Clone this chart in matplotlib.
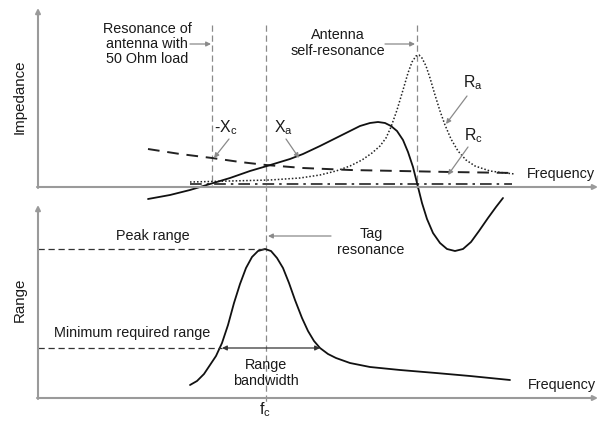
"""
Impedance and range of an RFID tag versus frequency (schematic).
Coordinates are in image pixels: x to the right, y downward.
"""

import matplotlib
matplotlib.use("Agg")
import matplotlib.pyplot as plt

plt.rcParams["font.family"] = ["Liberation Sans", "DejaVu Sans"]
plt.rcParams["mathtext.fontset"] = "custom"
plt.rcParams["mathtext.rm"] = "Liberation Sans"

# ---------------------------  Data  -------------------

# top panel: antenna reactance Xa (solid)
xa_x = [148, 170, 190, 210, 230, 250, 267, 290, 303, 320, 336, 350, 360,
        370, 378, 385, 391, 397, 403, 408, 413, 418, 422, 427, 433, 440,
        447, 455, 463, 471, 479, 488, 496, 503]
xa_y = [199, 195, 190, 184, 178, 171, 166, 159, 154, 146, 138, 131, 126,
        123, 122, 123, 126, 131, 140, 152, 167, 187, 203, 219, 233, 243,
        249, 251, 249, 242, 231, 218, 207, 198]

# antenna resistance Ra (dotted)
ra_x = [190, 230, 270, 300, 320, 336, 350, 362, 372, 380, 386, 391, 397,
        403, 408, 412, 416, 419, 422, 426, 430, 435, 440, 445, 451, 458,
        466, 475, 490, 505, 515]
ra_y = [182, 181, 180, 178, 175, 171, 166, 160, 153, 146, 138, 127, 110,
        90, 73, 62, 56, 55, 58, 66, 78, 95, 111, 125, 139, 151,
        160, 166, 171, 173, 174]

# chip reactance -Xc (dashed)
xc_x = [148, 180, 212, 240, 266, 303, 350, 400, 450, 515]
xc_y = [149, 154, 158, 162, 165, 168, 170, 171, 172, 173]

# chip resistance Rc (dash-dot)
rc_x = [190, 512]
rc_y = [184, 184]

# bottom panel: read range
rng_x = [190, 197, 204, 210, 216, 222, 228, 234, 240, 246, 252, 258, 265,
         271, 277, 283, 289, 295, 302, 308, 314, 320, 328, 336, 350, 370,
         400, 436, 470, 510]
rng_y = [385, 381, 374, 365, 356, 343, 325, 303, 284, 268, 257, 251, 249,
         251, 258, 268, 283, 300, 318, 331, 341, 348, 354, 358, 363, 367,
         370, 373, 376, 380]

# marker frequencies (x)
f_50ohm = 212
f_c = 266
f_self = 417
peak_y = 249
min_y = 348

# ---------------------------  Drawing  ---------------------------------------

fig = plt.figure(figsize=(6.06, 4.23), dpi=100)
ax = fig.add_axes([0, 0, 1, 1])
ax.set_xlim(0, 606)
ax.set_ylim(423, 0)
ax.axis("off")

TXT = "#1a1a1a"
GREY = "#8a8a8a"
FS = 10.4


def arrow(x0, y0, x1, y1, color=GREY, lw=0.9, head="-|>"):
    ax.annotate("", xy=(x1, y1), xytext=(x0, y0),
                arrowprops=dict(arrowstyle=head, color=color, lw=lw,
                                shrinkA=0, shrinkB=0,
                                mutation_scale=7))


# axes
arrow(38, 188, 38, 8, color="#9a9a9a", lw=1.5)
arrow(37, 187, 598, 187, color="#9a9a9a", lw=1.5)
arrow(38, 399, 38, 205, color="#9a9a9a", lw=1.5)
arrow(37, 398, 598, 398, color="#9a9a9a", lw=1.5)

# vertical marker lines
ax.plot([f_50ohm, f_50ohm], [25, 187], color=GREY, lw=0.9, ls=(0, (5, 3)))
ax.plot([f_c, f_c], [25, 405], color=GREY, lw=0.9, ls=(0, (5, 3)))
ax.plot([f_self, f_self], [25, 188], color=GREY, lw=0.9, ls=(0, (5, 3)))

# curves
ax.plot(xc_x, xc_y, color="#222", lw=1.4, ls=(0, (6, 4)))
ax.plot(rc_x, rc_y, color="#222", lw=1.2, ls=(0, (7, 3, 1.5, 3)))
ax.plot(ra_x, ra_y, color="#222", lw=1.1, ls=(0, (1, 1.3)))
ax.plot(xa_x, xa_y, color="#111", lw=1.3, solid_capstyle="round",
        solid_joinstyle="round")
ax.plot(rng_x, rng_y, color="#111", lw=1.3, solid_capstyle="round",
        solid_joinstyle="round")

# horizontal reference lines in range panel
ax.plot([38, f_c], [peak_y, peak_y], color="#333", lw=0.9, ls=(0, (5, 3)))
ax.plot([38, 222], [min_y, min_y], color="#333", lw=0.9, ls=(0, (5, 3)))

# range bandwidth double arrow
ax.annotate("", xy=(222, min_y), xytext=(320, min_y),
            arrowprops=dict(arrowstyle="<|-|>", color="#333", lw=0.9,
                            shrinkA=0, shrinkB=0, mutation_scale=7))

# labels
ax.text(20, 97, "Impedance", rotation=90, ha="center", va="center",
        fontsize=FS + 0.5, color=TXT)
ax.text(20, 300, "Range", rotation=90, ha="center", va="center",
        fontsize=FS + 0.5, color=TXT)
ax.text(147, 44, "Resonance of\nantenna with\n50 Ohm load", ha="center",
        va="center", fontsize=FS, color=TXT, linespacing=1.1)
arrow(190, 44, 211, 44)
ax.text(338, 43, "Antenna\nself-resonance", ha="center", va="center",
        fontsize=FS, color=TXT, linespacing=1.15)
arrow(385, 44, 415, 44)

ax.text(226, 128, r"-X$_\mathregular{c}$", ha="center", va="center",
        fontsize=FS + 1, color=TXT)
arrow(229, 139, 214, 158)
ax.text(283, 128, r"X$_\mathregular{a}$", ha="center", va="center",
        fontsize=FS + 1, color=TXT)
arrow(286, 139, 299, 158)
ax.text(473, 83, r"R$_\mathregular{a}$", ha="center", va="center",
        fontsize=FS + 1, color=TXT)
arrow(467, 96, 446, 124)
ax.text(473, 136, r"R$_\mathregular{c}$", ha="center", va="center",
        fontsize=FS + 1, color=TXT)
arrow(468, 147, 448, 175)

ax.text(527, 174, "Frequency", ha="left", va="center", fontsize=FS,
        color=TXT)
ax.text(528, 385, "Frequency", ha="left", va="center", fontsize=FS,
        color=TXT)

ax.text(153, 236, "Peak range", ha="center", va="center", fontsize=FS,
        color=TXT)
ax.text(132, 333, "Minimum required range", ha="center", va="center",
        fontsize=FS, color=TXT)
ax.text(371, 242, "Tag\nresonance", ha="center", va="center", fontsize=FS,
        color=TXT, linespacing=1.15)
arrow(331, 236, 268, 236)
ax.text(266, 373, "Range\nbandwidth", ha="center", va="center",
        fontsize=FS, color=TXT, linespacing=1.15)
ax.text(265, 410, r"f$_\mathregular{c}$", ha="center", va="center",
        fontsize=FS + 1, color=TXT)

fig.savefig("out.png", dpi=100, facecolor="white")
